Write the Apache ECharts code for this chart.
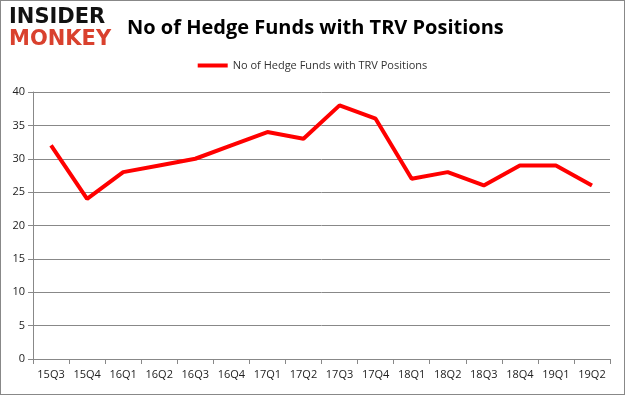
<!DOCTYPE html>
<html><head><meta charset="utf-8">
<script src="https://cdn.jsdelivr.net/npm/echarts@6/dist/echarts.min.js"></script>
<style>html,body{margin:0;padding:0;background:#fff}#c{width:625px;height:395px;box-sizing:border-box;border:1px solid #888}</style>
</head><body><div id="c"></div>
<script>
const categories = ['15Q3','15Q4','16Q1','16Q2','16Q3','16Q4','17Q1','17Q2','17Q3','17Q4','18Q1','18Q2','18Q3','18Q4','19Q1','19Q2'];
const values = [32,24,28,29,30,32,34,33,38,36,27,28,26,29,29,26];
const seriesName = 'No of Hedge Funds with TRV Positions';
const chart = echarts.init(document.getElementById('c'));
chart.setOption({
  animation:false,
  title:{text:'No of Hedge Funds with TRV Positions',left:121,top:12,textStyle:{fontFamily:'Open Sans',fontSize:20,fontWeight:'bold',color:'#000'}},
  graphic:[
    {type:'text',left:8,top:6,style:{text:'INSIDER',fontFamily:'DejaVu Sans',fontWeight:'bold',fontSize:21,fill:'#111'}},
    {type:'text',left:8,top:28,style:{text:'MONKEY',fontFamily:'DejaVu Sans',fontWeight:'bold',fontSize:21,fill:'#d9412e'}}
  ],
  legend:{top:54,left:'center',itemWidth:30,itemHeight:4,icon:'rect',textStyle:{fontFamily:'Open Sans',fontSize:11,color:'#333'},data:[seriesName]},
  grid:{left:32,right:14,top:91,bottom:35},
  xAxis:{type:'category',data:categories,boundaryGap:true,
    axisLine:{lineStyle:{color:'#888'}},axisTick:{show:true,length:5,lineStyle:{color:'#888'}},
    axisLabel:{color:'#222',fontFamily:'Open Sans',fontSize:11,margin:10}},
  yAxis:{type:'value',min:0,max:40,interval:5,
    axisLine:{show:true,lineStyle:{color:'#888'}},axisTick:{show:true,length:5,lineStyle:{color:'#888'}},
    splitLine:{lineStyle:{color:'#888'}},
    axisLabel:{color:'#222',fontFamily:'Open Sans',fontSize:11,margin:8}},
  series:[{name:seriesName,type:'line',data:values,symbol:'none',lineStyle:{color:'#ff0000',width:4},itemStyle:{color:'#ff0000'}}]
});
</script></body></html>
